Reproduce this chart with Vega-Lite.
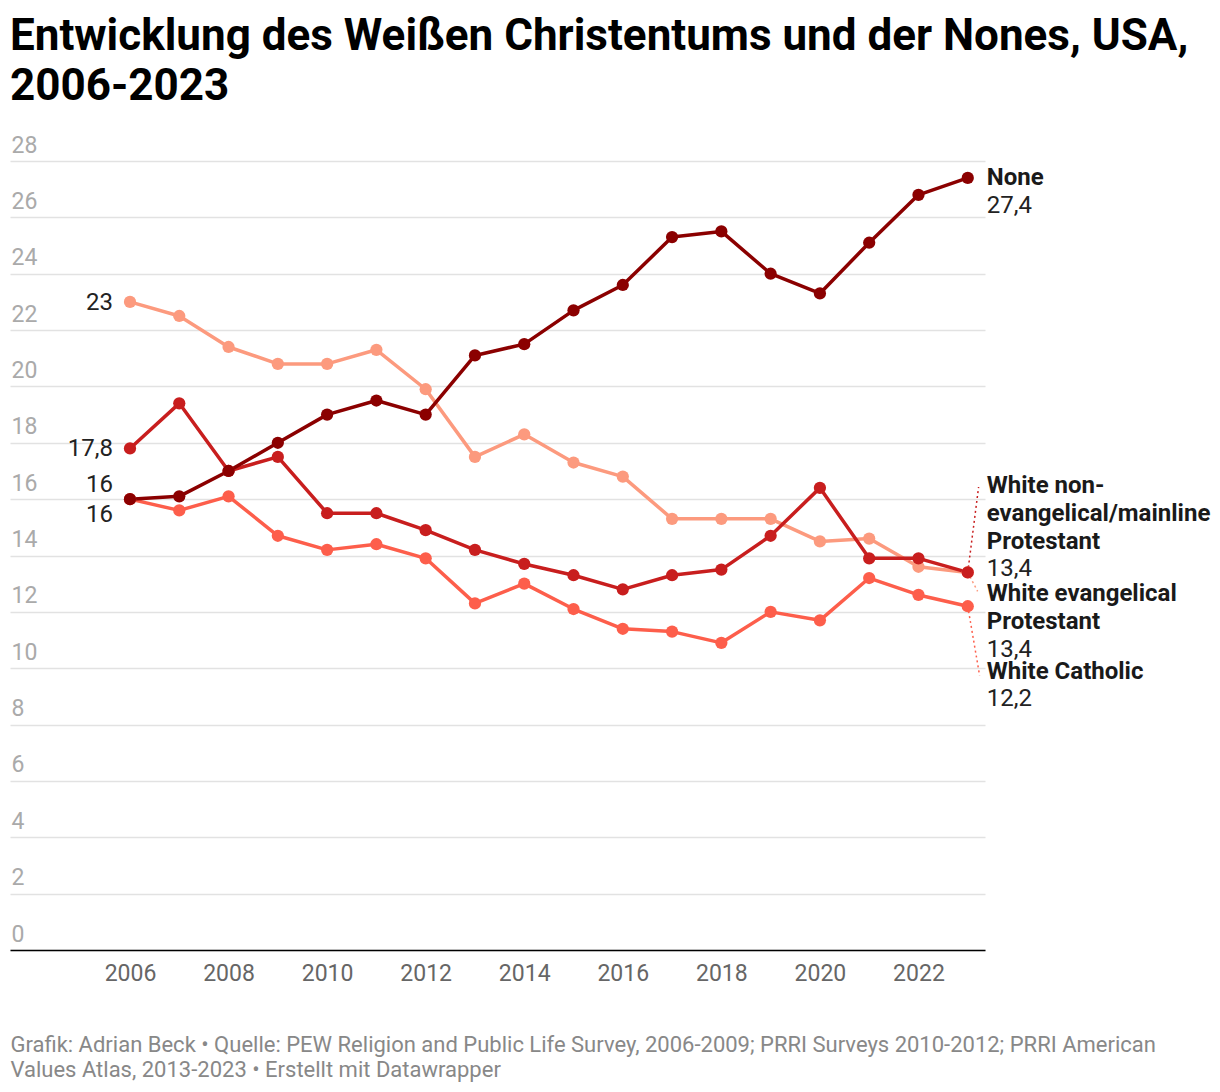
{
  "$schema": "https://vega.github.io/schema/vega-lite/v6.json",
  "width": 975,
  "height": 789,
  "autosize": {"type": "none"},
  "padding": {"left": 10, "top": 161, "right": 235, "bottom": 142},
  "background": "#ffffff",
  "title": {
    "text": ["Entwicklung des Weißen Christentums und der Nones, USA,", "2006-2023"],
    "anchor": "start",
    "frame": "group",
    "font": "Roboto",
    "fontSize": 44,
    "fontWeight": "bold",
    "lineHeight": 50,
    "color": "#000000",
    "offset": 25
  },
  "config": {
    "font": "Roboto",
    "view": {"stroke": null},
    "locale": {"number": {"decimal": ",", "thousands": ".", "grouping": [3], "currency": ["", " €"]}}
  },
  "data": {
    "values": [
      {"year": 2006, "series": "White evangelical Protestant", "value": 23.0},
      {"year": 2007, "series": "White evangelical Protestant", "value": 22.5},
      {"year": 2008, "series": "White evangelical Protestant", "value": 21.4},
      {"year": 2009, "series": "White evangelical Protestant", "value": 20.8},
      {"year": 2010, "series": "White evangelical Protestant", "value": 20.8},
      {"year": 2011, "series": "White evangelical Protestant", "value": 21.3},
      {"year": 2012, "series": "White evangelical Protestant", "value": 19.9},
      {"year": 2013, "series": "White evangelical Protestant", "value": 17.5},
      {"year": 2014, "series": "White evangelical Protestant", "value": 18.3},
      {"year": 2015, "series": "White evangelical Protestant", "value": 17.3},
      {"year": 2016, "series": "White evangelical Protestant", "value": 16.8},
      {"year": 2017, "series": "White evangelical Protestant", "value": 15.3},
      {"year": 2018, "series": "White evangelical Protestant", "value": 15.3},
      {"year": 2019, "series": "White evangelical Protestant", "value": 15.3},
      {"year": 2020, "series": "White evangelical Protestant", "value": 14.5},
      {"year": 2021, "series": "White evangelical Protestant", "value": 14.6},
      {"year": 2022, "series": "White evangelical Protestant", "value": 13.6},
      {"year": 2023, "series": "White evangelical Protestant", "value": 13.4},
      {"year": 2006, "series": "White Catholic", "value": 16.0},
      {"year": 2007, "series": "White Catholic", "value": 15.6},
      {"year": 2008, "series": "White Catholic", "value": 16.1},
      {"year": 2009, "series": "White Catholic", "value": 14.7},
      {"year": 2010, "series": "White Catholic", "value": 14.2},
      {"year": 2011, "series": "White Catholic", "value": 14.4},
      {"year": 2012, "series": "White Catholic", "value": 13.9},
      {"year": 2013, "series": "White Catholic", "value": 12.3},
      {"year": 2014, "series": "White Catholic", "value": 13.0},
      {"year": 2015, "series": "White Catholic", "value": 12.1},
      {"year": 2016, "series": "White Catholic", "value": 11.4},
      {"year": 2017, "series": "White Catholic", "value": 11.3},
      {"year": 2018, "series": "White Catholic", "value": 10.9},
      {"year": 2019, "series": "White Catholic", "value": 12.0},
      {"year": 2020, "series": "White Catholic", "value": 11.7},
      {"year": 2021, "series": "White Catholic", "value": 13.2},
      {"year": 2022, "series": "White Catholic", "value": 12.6},
      {"year": 2023, "series": "White Catholic", "value": 12.2},
      {"year": 2006, "series": "White non-evangelical/mainline Protestant", "value": 17.8},
      {"year": 2007, "series": "White non-evangelical/mainline Protestant", "value": 19.4},
      {"year": 2008, "series": "White non-evangelical/mainline Protestant", "value": 17.0},
      {"year": 2009, "series": "White non-evangelical/mainline Protestant", "value": 17.5},
      {"year": 2010, "series": "White non-evangelical/mainline Protestant", "value": 15.5},
      {"year": 2011, "series": "White non-evangelical/mainline Protestant", "value": 15.5},
      {"year": 2012, "series": "White non-evangelical/mainline Protestant", "value": 14.9},
      {"year": 2013, "series": "White non-evangelical/mainline Protestant", "value": 14.2},
      {"year": 2014, "series": "White non-evangelical/mainline Protestant", "value": 13.7},
      {"year": 2015, "series": "White non-evangelical/mainline Protestant", "value": 13.3},
      {"year": 2016, "series": "White non-evangelical/mainline Protestant", "value": 12.8},
      {"year": 2017, "series": "White non-evangelical/mainline Protestant", "value": 13.3},
      {"year": 2018, "series": "White non-evangelical/mainline Protestant", "value": 13.5},
      {"year": 2019, "series": "White non-evangelical/mainline Protestant", "value": 14.7},
      {"year": 2020, "series": "White non-evangelical/mainline Protestant", "value": 16.4},
      {"year": 2021, "series": "White non-evangelical/mainline Protestant", "value": 13.9},
      {"year": 2022, "series": "White non-evangelical/mainline Protestant", "value": 13.9},
      {"year": 2023, "series": "White non-evangelical/mainline Protestant", "value": 13.4},
      {"year": 2006, "series": "None", "value": 16.0},
      {"year": 2007, "series": "None", "value": 16.1},
      {"year": 2008, "series": "None", "value": 17.0},
      {"year": 2009, "series": "None", "value": 18.0},
      {"year": 2010, "series": "None", "value": 19.0},
      {"year": 2011, "series": "None", "value": 19.5},
      {"year": 2012, "series": "None", "value": 19.0},
      {"year": 2013, "series": "None", "value": 21.1},
      {"year": 2014, "series": "None", "value": 21.5},
      {"year": 2015, "series": "None", "value": 22.7},
      {"year": 2016, "series": "None", "value": 23.6},
      {"year": 2017, "series": "None", "value": 25.3},
      {"year": 2018, "series": "None", "value": 25.5},
      {"year": 2019, "series": "None", "value": 24.0},
      {"year": 2020, "series": "None", "value": 23.3},
      {"year": 2021, "series": "None", "value": 25.1},
      {"year": 2022, "series": "None", "value": 26.8},
      {"year": 2023, "series": "None", "value": 27.4}
    ]
  },
  "encoding": {
    "x": {
      "field": "year",
      "type": "quantitative",
      "scale": {"domain": [2003.565, 2023.35], "nice": false, "zero": false},
      "axis": {
        "values": [2006, 2008, 2010, 2012, 2014, 2016, 2018, 2020, 2022],
        "format": "d",
        "grid": false,
        "ticks": false,
        "tickSize": 0,
        "labelFontSize": 23,
        "labelColor": "#666666",
        "labelPadding": 12,
        "labelFont": "Roboto",
        "domain": true,
        "domainColor": "#000000",
        "domainWidth": 1.5,
        "title": ["Grafik: Adrian Beck • Quelle: PEW Religion and Public Life Survey, 2006-2009; PRRI Surveys 2010-2012; PRRI American", "Values Atlas, 2013-2023 • Erstellt mit Datawrapper"],
        "titleAnchor": "start",
        "titleAlign": "left",
        "titleBaseline": "alphabetic",
        "titleX": 0,
        "titleY": 101,
        "titleFont": "Roboto",
        "titleFontSize": 22,
        "titleFontWeight": "normal",
        "titleColor": "#888888",
        "titleLineHeight": 25
      }
    },
    "y": {
      "field": "value",
      "type": "quantitative",
      "scale": {"domain": [0, 28], "nice": false},
      "axis": {
        "values": [0, 2, 4, 6, 8, 10, 12, 14, 16, 18, 20, 22, 24, 26, 28],
        "title": null,
        "domain": false,
        "ticks": false,
        "tickSize": 0,
        "grid": true,
        "gridColor": "#e2e2e2",
        "gridWidth": 1.5,
        "labelAlign": "left",
        "labelBaseline": "alphabetic",
        "labelPadding": -1,
        "labelOffset": -9,
        "labelFontSize": 23,
        "labelColor": "#aaaaaa",
        "labelFont": "Roboto"
      }
    },
    "color": {
      "field": "series",
      "type": "nominal",
      "scale": {
        "domain": ["White evangelical Protestant", "White Catholic", "White non-evangelical/mainline Protestant", "None"],
        "range": ["#fc9a7e", "#fd5e4b", "#c81e1e", "#8b0000"]
      },
      "legend": null
    }
  },
  "layer": [
    {"mark": {"type": "line", "strokeWidth": 3.5, "strokeJoin": "round"}},
    {
      "transform": [{"filter": "datum.year == 2023 && datum.series == 'White non-evangelical/mainline Protestant'"}],
      "mark": {"type": "rule", "strokeDash": [2, 3], "strokeWidth": 1.5},
      "encoding": {"x2": {"datum": 2023.22}, "y2": {"datum": 16.43}}
    },
    {
      "transform": [{"filter": "datum.year == 2023 && datum.series == 'White evangelical Protestant'"}],
      "mark": {"type": "rule", "strokeDash": [2, 3], "strokeWidth": 1.5},
      "encoding": {"x2": {"datum": 2023.2}, "y2": {"datum": 12.73}}
    },
    {
      "transform": [{"filter": "datum.year == 2023 && datum.series == 'White Catholic'"}],
      "mark": {"type": "rule", "strokeDash": [2, 3], "strokeWidth": 1.5},
      "encoding": {"x2": {"datum": 2023.24}, "y2": {"datum": 9.75}}
    },
    {"mark": {"type": "point", "filled": true, "size": 150, "opacity": 1}},
    {
      "transform": [{"filter": "datum.year == 2006 && (datum.series == 'White evangelical Protestant' || datum.series == 'White non-evangelical/mainline Protestant')"}],
      "mark": {"type": "text", "align": "right", "baseline": "middle", "dx": -17, "dy": 1, "fontSize": 24},
      "encoding": {"text": {"field": "value", "type": "quantitative", "format": "~g"}, "color": {"value": "#222222"}}
    },
    {
      "transform": [{"filter": "datum.year == 2006 && datum.series == 'None'"}],
      "mark": {"type": "text", "align": "right", "baseline": "middle", "dx": -17, "dy": -14, "fontSize": 24},
      "encoding": {"text": {"field": "value", "type": "quantitative", "format": "~g"}, "color": {"value": "#222222"}}
    },
    {
      "transform": [{"filter": "datum.year == 2006 && datum.series == 'White Catholic'"}],
      "mark": {"type": "text", "align": "right", "baseline": "middle", "dx": -17, "dy": 16, "fontSize": 24},
      "encoding": {"text": {"field": "value", "type": "quantitative", "format": "~g"}, "color": {"value": "#222222"}}
    },
    {
      "transform": [{"filter": "datum.year == 2023 && datum.series == 'None'"}],
      "mark": {"type": "text", "align": "left", "baseline": "middle", "dx": 19, "dy": 0, "fontSize": 24, "fontWeight": "bold"},
      "encoding": {"text": {"value": "None"}, "color": {"value": "#1a1a1a"}}
    },
    {
      "transform": [{"filter": "datum.year == 2023 && datum.series == 'None'"}],
      "mark": {"type": "text", "align": "left", "baseline": "middle", "dx": 19, "dy": 28, "fontSize": 24},
      "encoding": {"text": {"field": "value", "type": "quantitative", "format": "~g"}, "color": {"value": "#222222"}}
    },
    {
      "transform": [{"filter": "datum.year == 2023 && datum.series == 'White non-evangelical/mainline Protestant'"}],
      "mark": {"type": "text", "align": "left", "baseline": "middle", "dx": 19, "dy": -86, "fontSize": 24, "fontWeight": "bold", "lineHeight": 28},
      "encoding": {"text": {"value": ["White non-", "evangelical/mainline", "Protestant"]}, "color": {"value": "#1a1a1a"}}
    },
    {
      "transform": [{"filter": "datum.year == 2023 && datum.series == 'White non-evangelical/mainline Protestant'"}],
      "mark": {"type": "text", "align": "left", "baseline": "middle", "dx": 19, "dy": -3, "fontSize": 24},
      "encoding": {"text": {"field": "value", "type": "quantitative", "format": "~g"}, "color": {"value": "#222222"}}
    },
    {
      "transform": [{"filter": "datum.year == 2023 && datum.series == 'White evangelical Protestant'"}],
      "mark": {"type": "text", "align": "left", "baseline": "middle", "dx": 19, "dy": 22, "fontSize": 24, "fontWeight": "bold", "lineHeight": 28},
      "encoding": {"text": {"value": ["White evangelical", "Protestant"]}, "color": {"value": "#1a1a1a"}}
    },
    {
      "transform": [{"filter": "datum.year == 2023 && datum.series == 'White evangelical Protestant'"}],
      "mark": {"type": "text", "align": "left", "baseline": "middle", "dx": 19, "dy": 78, "fontSize": 24},
      "encoding": {"text": {"field": "value", "type": "quantitative", "format": "~g"}, "color": {"value": "#222222"}}
    },
    {
      "transform": [{"filter": "datum.year == 2023 && datum.series == 'White Catholic'"}],
      "mark": {"type": "text", "align": "left", "baseline": "middle", "dx": 19, "dy": 66, "fontSize": 24, "fontWeight": "bold"},
      "encoding": {"text": {"value": "White Catholic"}, "color": {"value": "#1a1a1a"}}
    },
    {
      "transform": [{"filter": "datum.year == 2023 && datum.series == 'White Catholic'"}],
      "mark": {"type": "text", "align": "left", "baseline": "middle", "dx": 19, "dy": 93, "fontSize": 24},
      "encoding": {"text": {"field": "value", "type": "quantitative", "format": "~g"}, "color": {"value": "#222222"}}
    }
  ]
}
